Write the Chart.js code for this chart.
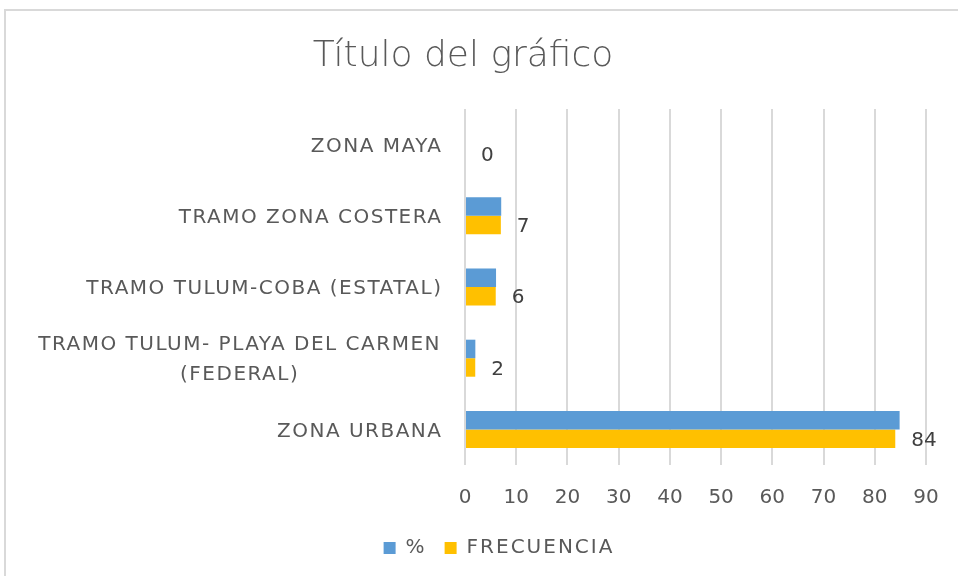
<!DOCTYPE html>
<html>
<head>
<meta charset="utf-8">
<script src="https://cdn.jsdelivr.net/npm/chart.js@4/dist/chart.umd.min.js"></script>
<style>
  body { margin: 0; background: #fff; }
  #wrap { position: relative; width: 958px; height: 576px; overflow: hidden; background: #fff; }
  #frame { position: absolute; left: 4px; top: 9px; width: 1000px; height: 700px; border: 2px solid #d9d9d9; box-sizing: border-box; }
  #c { position: absolute; left: 0; top: 0; }
</style>
</head>
<body>
<div id="wrap">
  <div id="frame"></div>
  <canvas id="c" width="958" height="576"></canvas>
</div>
<script>
const categories = [
  'ZONA MAYA',
  'TRAMO ZONA COSTERA',
  'TRAMO TULUM-COBA (ESTATAL)',
  ['TRAMO TULUM- PLAYA DEL CARMEN', '(FEDERAL)'],
  'ZONA URBANA'
];
const percentValues = [0, 7.07, 6.06, 2.02, 84.85];
const frecuenciaValues = [0, 7, 6, 2, 84];
const seriesNames = ['%', 'FRECUENCIA'];
const xTicks = [0, 10, 20, 30, 40, 50, 60, 70, 80, 90];
const titleText = 'Título del gráfico';

const FONT = "'DejaVu Sans', sans-serif";
const TEXT = '#595959';

const yLabelsPlugin = {
  id: 'yLabels',
  afterDraw(chart) {
    const ctx = chart.ctx;
    const y = chart.scales.y;
    const right = chart.chartArea.left - 24;
    ctx.save();
    ctx.font = "20px " + FONT;
    ctx.letterSpacing = '1.5px';
    ctx.fillStyle = TEXT;
    ctx.textBaseline = 'middle';
    categories.forEach((lab, i) => {
      const cy = y.getPixelForTick(i) + 2;
      const lines = Array.isArray(lab) ? lab : [lab];
      const lh = 30;
      const maxW = Math.max(...lines.map(l => ctx.measureText(l).width));
      lines.forEach((l, k) => {
        const ly = cy + (k - (lines.length - 1) / 2) * lh;
        ctx.textAlign = 'left';
        if (lines.length > 1) {
          const w = ctx.measureText(l).width;
          ctx.fillText(l, right - maxW / 2 - w / 2, ly);
        } else {
          ctx.fillText(l, right - ctx.measureText(l).width + 1.5, ly);
        }
      });
    });
    ctx.restore();
    ctx.letterSpacing = '0px';
  }
};

const dataLabelPlugin = {
  id: 'dataLabels',
  afterDatasetsDraw(chart) {
    const ctx = chart.ctx;
    const meta = chart.getDatasetMeta(1);
    ctx.save();
    ctx.font = "20px " + FONT;
    ctx.letterSpacing = '0px';
    ctx.fillStyle = '#404040';
    ctx.textAlign = 'left';
    ctx.textBaseline = 'middle';
    meta.data.forEach((el, i) => {
      ctx.fillText(String(frecuenciaValues[i]), el.x + 16, el.y + 2);
    });
    ctx.restore();
  }
};

const legendTweak = {
  id: 'legendTweak',
  beforeLayout(chart) { chart.ctx.letterSpacing = '2px'; },
  afterLayout(chart) {
    chart.ctx.letterSpacing = '0px';
    const lg = chart.legend;
    if (lg && !lg._wrapped) {
      const orig = lg.draw.bind(lg);
      lg.draw = function () {
        const c = chart.ctx;
        c.save();
        c.letterSpacing = '2px';
        orig();
        c.restore();
        c.letterSpacing = '0px';
      };
      lg._wrapped = true;
    }
    if (lg) { lg.left += 36; lg.right += 36; }
  }
};

new Chart(document.getElementById('c'), {
  type: 'bar',
  data: {
    labels: categories,
    datasets: [
      { label: seriesNames[0], data: percentValues, backgroundColor: '#5B9BD5', categoryPercentage: 0.52, barPercentage: 1.0 },
      { label: seriesNames[1], data: frecuenciaValues, backgroundColor: '#FFC000', categoryPercentage: 0.52, barPercentage: 1.0 }
    ]
  },
  options: {
    indexAxis: 'y',
    responsive: false,
    animation: false,
    layout: { padding: { left: 0, right: 32, top: 0, bottom: 8 } },
    plugins: {
      title: {
        display: true,
        text: titleText,
        color: TEXT,
        font: { family: FONT, size: 36, weight: 200, lineHeight: 1.2 },
        padding: { top: 35, bottom: 30.8 }
      },
      legend: {
        position: 'bottom',
        labels: {
          color: TEXT,
          boxWidth: 12,
          boxHeight: 12,
          padding: 18,
          font: { family: FONT, size: 20 }
        }
      },
      tooltip: { enabled: false }
    },
    scales: {
      x: {
        min: 0,
        max: 90,
        afterBuildTicks(scale) { scale.ticks = xTicks.map(v => ({ value: v })); },
        afterFit(scale) { scale.height = 55; scale.paddingRight = 0; scale.paddingLeft = 0; },
        grid: { color: '#d9d9d9', lineWidth: 2, drawTicks: false },
        border: { display: false },
        ticks: { color: TEXT, padding: 21, font: { family: FONT, size: 20 } }
      },
      y: {
        afterFit(scale) { scale.width = 465; scale.paddingTop = 0; scale.paddingBottom = 0; },
        grid: { display: false },
        border: { display: false },
        ticks: { display: false }
      }
    }
  },
  plugins: [legendTweak, yLabelsPlugin, dataLabelPlugin]
});
</script>
</body>
</html>
